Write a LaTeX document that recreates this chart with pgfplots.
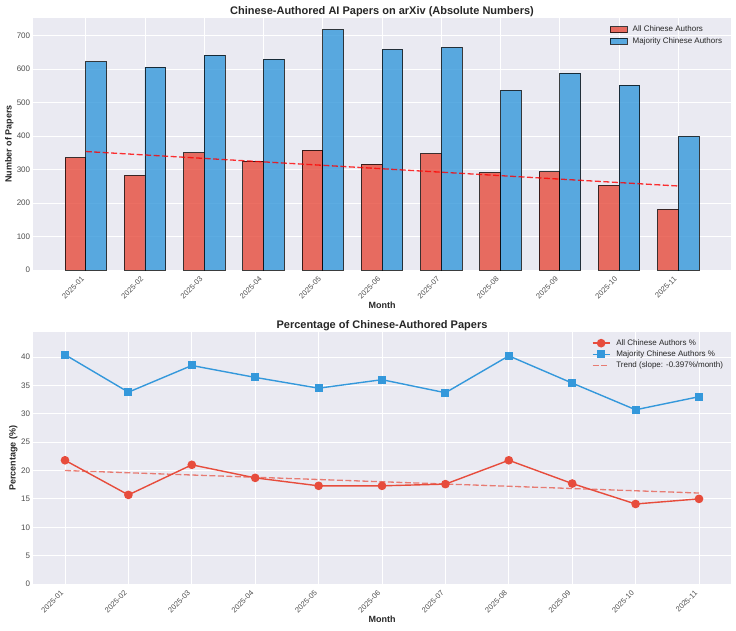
\documentclass[border=0pt]{standalone}
\usepackage{fontspec}
\setmainfont{Liberation Sans}
\usepackage{pgfplots}
\pgfplotsset{compat=1.18}
\definecolor{bg}{HTML}{EAEAF2}
\definecolor{cred}{HTML}{E74C3C}
\definecolor{cblue}{HTML}{3498DB}
\definecolor{tickc}{HTML}{4D4D4D}
\definecolor{labc}{HTML}{262626}
\pgfplotsset{
  common/.style={
    scale only axis,
    axis background/.style={fill=bg},
    axis line style={draw=none},
    tick style={draw=none},
    grid=major,
    major grid style={white, line width=0.8pt},
    xtick={0,...,10},
    xticklabels={2025-01,2025-02,2025-03,2025-04,2025-05,2025-06,2025-07,2025-08,2025-09,2025-10,2025-11},
    x tick label style={xshift=-2.8pt, yshift=-7.8pt, rotate=45, anchor=east, inner sep=0pt, font=\fontsize{7.5}{9}\selectfont, text=tickc},
    y tick label style={anchor=east, inner sep=0pt, xshift=-3pt, font=\fontsize{8}{9}\selectfont, text=tickc},
    /pgf/number format/assume math mode=true,
    title style={at={(rel axis cs:0.5,1)}, anchor=center, yshift=0.3pt, font=\bfseries\fontsize{11}{12}\selectfont, text=labc},
    xlabel style={at={(rel axis cs:0.5,0)}, anchor=center, yshift=-35.5pt, font=\bfseries\fontsize{9}{10}\selectfont, text=labc},
    ylabel style={font=\bfseries\fontsize{9}{10}\selectfont, text=labc},
    legend style={draw=none, fill=none, font=\fontsize{8}{9}\selectfont, text=labc, row sep=0pt},
    legend cell align=left,
  },
}
\begin{document}
\begin{tikzpicture}
\useasboundingbox (0pt,0pt) rectangle (736pt,-630pt);
\begin{axis}[common,
  at={(33.3pt,-18.3pt)}, anchor=north west, width=697.4pt, height=251.7pt,
  xmin=-0.885, xmax=10.885, ymin=0, ymax=752,
  ytick={0,100,...,700},
  title={Chinese-Authored AI Papers on arXiv (Absolute Numbers)},
  xlabel={Month}, ylabel={Number of Papers},
  ylabel style={at={(rel axis cs:0,0.5)}, anchor=center, yshift=24pt},
  legend style={at={(0.985,0.97)}, anchor=north east, xshift=7pt, yshift=4pt},
  legend image code/.code={\draw[#1] (0pt,-3pt) rectangle (17pt,3pt); \path (20pt,0pt);},
]
\addplot[ybar, bar width=0.35, bar shift=-0.175, fill=cred, fill opacity=0.8, draw=black, draw opacity=0.75, line width=0.9pt]
  coordinates {(0,336) (1,283) (2,350) (3,325) (4,358) (5,316) (6,348) (7,291) (8,293) (9,253) (10,181)};
\addlegendentry{All Chinese Authors}
\addplot[ybar, bar width=0.35, bar shift=0.175, fill=cblue, fill opacity=0.8, draw=black, draw opacity=0.75, line width=0.9pt]
  coordinates {(0,622) (1,606) (2,642) (3,630) (4,718) (5,659) (6,665) (7,537) (8,588) (9,552) (10,399)};
\addlegendentry{Majority Chinese Authors}
\addplot[forget plot, red, opacity=0.8, line width=1.3pt, dash pattern=on 6pt off 2.5pt]
  coordinates {(0,354) (10,251)};
\end{axis}
\begin{axis}[common,
  at={(33.3pt,-332pt)}, anchor=north west, width=697.4pt, height=252pt,
  xmin=-0.5, xmax=10.5, ymin=0, ymax=44.4,
  ytick={0,5,...,40},
  title={Percentage of Chinese-Authored Papers},
  xlabel={Month}, ylabel={Percentage (\%)},
  ylabel style={at={(rel axis cs:0,0.5)}, anchor=center, yshift=20pt},
  legend style={at={(0.985,0.975)}, anchor=north east, xshift=8pt, yshift=3pt},
  legend image code/.code={\draw[mark repeat=2, mark phase=2, #1] plot coordinates {(0pt,0pt) (8.5pt,0pt) (17pt,0pt)}; \path (21pt,0pt);},
]
\addplot[cred, line width=1.4pt, mark=*, mark size=3.6pt, mark options={solid}]
  coordinates {(0,21.8) (1,15.7) (2,21.0) (3,18.7) (4,17.3) (5,17.3) (6,17.6) (7,21.8) (8,17.7) (9,14.1) (10,15.0)};
\addlegendentry{All Chinese Authors \%}
\addplot[cblue, line width=1.4pt, mark=square*, mark size=3.3pt, mark options={solid}]
  coordinates {(0,40.4) (1,33.8) (2,38.5) (3,36.4) (4,34.5) (5,36.0) (6,33.7) (7,40.2) (8,35.4) (9,30.7) (10,33.0)};
\addlegendentry{Majority Chinese Authors \%}
\addplot[cred, opacity=0.7, line width=1.3pt, dash pattern=on 6pt off 2.5pt, no marks]
  coordinates {(0,20.0) (10,16.03)};
\addlegendentry{Trend (slope: -0.397\%/month)}
\end{axis}
\end{tikzpicture}
\end{document}
